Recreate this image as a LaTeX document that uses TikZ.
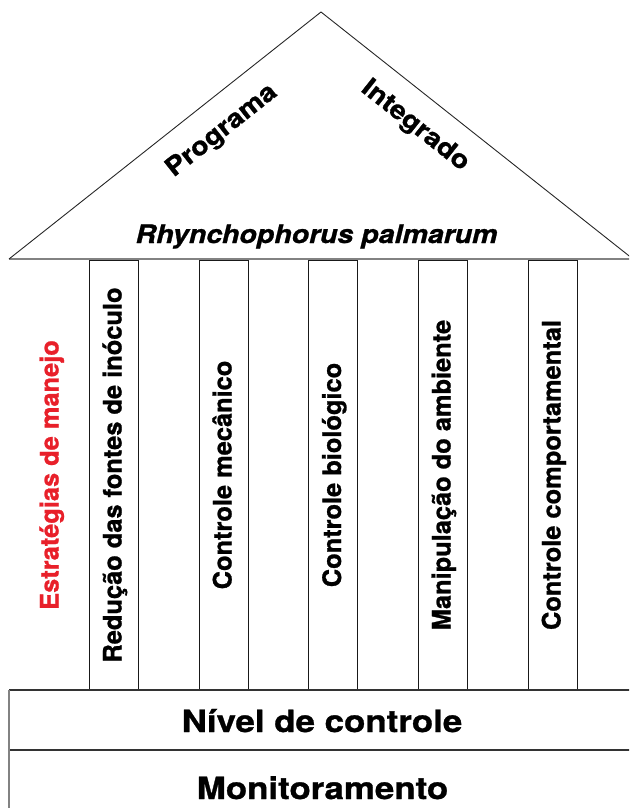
\documentclass[tikz,border=0pt]{standalone}
\usepackage{fontspec}
\setmainfont{TeX Gyre Heros}
\newfontfamily\rooffont{texgyreheros-bold.otf}[FakeStretch=1.12, FakeBold=1]
\newfontfamily\rhynfont{texgyreheros-bolditalic.otf}[FakeStretch=1.12, FakeBold=1]
\newfontfamily\colfont{texgyreheros-bold.otf}[FakeBold=1]
\newfontfamily\basefont{texgyreheros-bold.otf}[FakeStretch=1.14, FakeBold=1]
\definecolor{stratred}{RGB}{232,32,42}
\definecolor{linegray}{RGB}{130,130,130}
\tikzset{
  roofline/.style={draw=black!85, line width=0.9pt},
  grayline/.style={draw=linegray, line width=1.8pt},
  darkline/.style={draw=black!80, line width=1.6pt},
  colbox/.style={draw=black!90, line width=1pt, minimum width=49pt, minimum height=430pt, inner sep=0pt},
  roofword/.style={font=\rooffont\fontsize{25.5}{30}\selectfont, inner sep=0pt},
  rhynword/.style={font=\rhynfont\fontsize{25.5}{30}\selectfont, inner sep=0pt, anchor=base},
  coltext/.style={font=\colfont\fontsize{25.4}{30}\selectfont, rotate=90, anchor=base, inner sep=0pt},
  basetext/.style={font=\basefont\fontsize{30.6}{36}\selectfont, anchor=base, inner sep=0pt}
}
\begin{document}
\begin{tikzpicture}[x=1pt,y=-1pt]
\clip (0,0) rectangle (629,808);
% roof
\coordinate (apex) at (321,12);
\coordinate (eaveL) at (9,259);
\coordinate (eaveR) at (633,259);
\draw[grayline] (eaveL) -- (eaveR);
\draw[roofline] (eaveL) -- (apex) -- (eaveR);
\node[roofword, rotate=38.4] (prog) at (222,131) {Programa};
\node[roofword, rotate=-38.4] (integ) at (415,126) {Integrado};
\node[rhynword] (rhyn) at (316.5,243) {Rhynchophorus palmarum};
% columns
\node[colbox] (c1) at (113.5,475) {};
\node[colbox] (c2) at (223.5,475) {};
\node[colbox] (c3) at (333,475) {};
\node[colbox] (c4) at (442.5,475) {};
\node[colbox] (c5) at (552.5,475) {};
\node[coltext, text=stratred] (estr) at (58.5,475) {Estratégias de manejo};
\node[coltext] (t1) at (121.5,475) {Redução das fontes de inóculo};
\node[coltext] (t2) at (231.5,475) {Controle mecânico};
\node[coltext] (t3) at (341,475) {Controle biológico};
\node[coltext] (t4) at (450.5,475) {Manipulação do ambiente};
\node[coltext] (t5) at (560.5,475) {Controle comportamental};
% base
\coordinate (bTL) at (9,690);
\coordinate (bTR) at (640,690);
\coordinate (bML) at (9,750);
\coordinate (bMR) at (640,750);
\coordinate (bBL) at (9,810);
\draw[darkline, line width=1.2pt] (bTL) -- (bTR);
\draw[darkline] (bML) -- (bMR);
\draw[grayline] (bTL) -- (bBL);
\node[basetext] (nivel) at (322,732) {Nível de controle};
\node[basetext] (monit) at (322.5,799) {Monitoramento};
\end{tikzpicture}
\end{document}
